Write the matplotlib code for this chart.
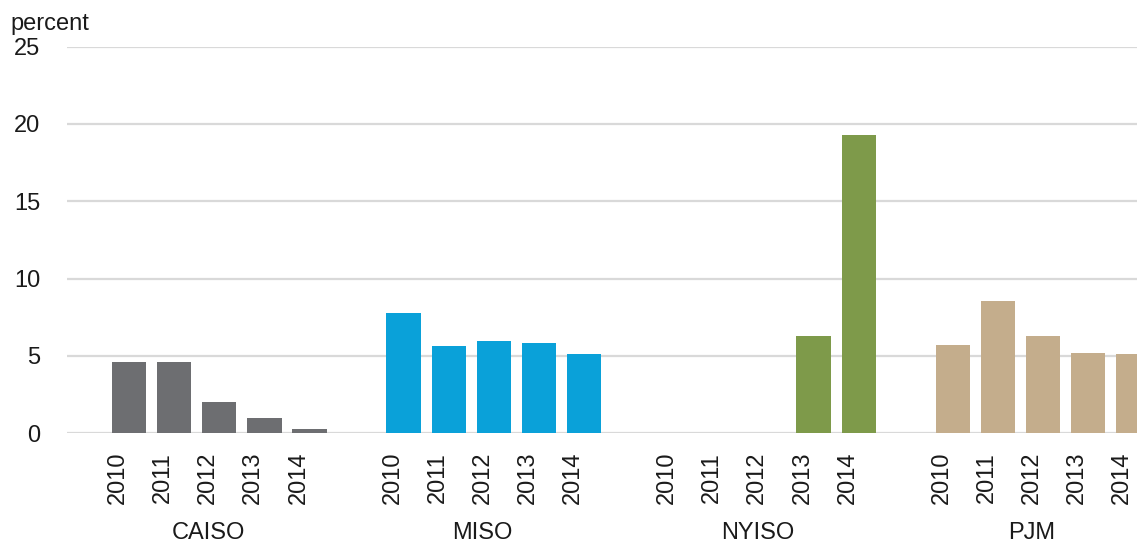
#!/usr/bin/env python3

import numpy as np
import matplotlib.pyplot as plt
import matplotlib.transforms as mtransforms
from matplotlib import font_manager

regions = ['CAISO', 'MISO', 'NYISO', 'PJM']
years = ['2010', '2011', '2012', '2013', '2014']

caiso = [4.6, 4.6, 2.0, 1.0, 0.26]
miso = [7.76, 5.65, 5.95, 5.85, 5.15]
nyiso = [np.nan, np.nan, np.nan, 6.3, 19.3]
pjm = [5.7, 8.57, 6.3, 5.17, 5.1]

colors = ['#6d6e71', '#0aa1d9', '#7e9a4a', '#c4ad8c']

names = {f.name for f in font_manager.fontManager.ttflist}
family = 'Liberation Sans Narrow' if 'Liberation Sans Narrow' in names else 'Liberation Sans'
plt.rcParams['font.family'] = [family, 'DejaVu Sans']

fig = plt.figure(figsize=(11.37, 5.44), dpi=100)
ax = fig.add_axes([0.0587, 0.2035, 0.9413, 0.7107])

# labels in the original sit a little left of the bar centres
shift = mtransforms.ScaledTranslation(-8 / 72, 0, fig.dpi_scale_trans)
xtrans = ax.get_xaxis_transform() + shift

group_step = 6.08
width = 0.76
for g, (name, vals, c) in enumerate(zip(regions, [caiso, miso, nyiso, pjm], colors)):
    x = g * group_step + np.arange(len(years))
    ax.bar(x, vals, width=width, color=c, zorder=3)
    for xi, yr in zip(x, years):
        ax.text(xi, -0.048, yr, transform=xtrans, rotation=90,
                ha='center', va='top', fontsize=17, color='#1a1a1a')
    ax.text(x.mean(), -0.258, name, transform=xtrans,
            ha='center', va='center', fontsize=17, color='#1a1a1a')

ax.set_xlim(-1.377, 22.32)
ax.set_ylim(0, 25)
ax.set_yticks([0, 5, 10, 15, 20, 25])
ax.set_xticks([])
ax.tick_params(axis='y', length=0, pad=19, labelsize=17, labelcolor='#1a1a1a')
ax.grid(axis='y', color='#d9d9d9', linewidth=1.6, zorder=0)
for s in ax.spines.values():
    s.set_visible(False)
ax.axhline(0, color='#d9d9d9', linewidth=1.8, zorder=2)

fig.text(0.009, 0.955, 'percent', fontsize=17, color='#1a1a1a', ha='left', va='center')

fig.savefig('out.png', dpi=100)
